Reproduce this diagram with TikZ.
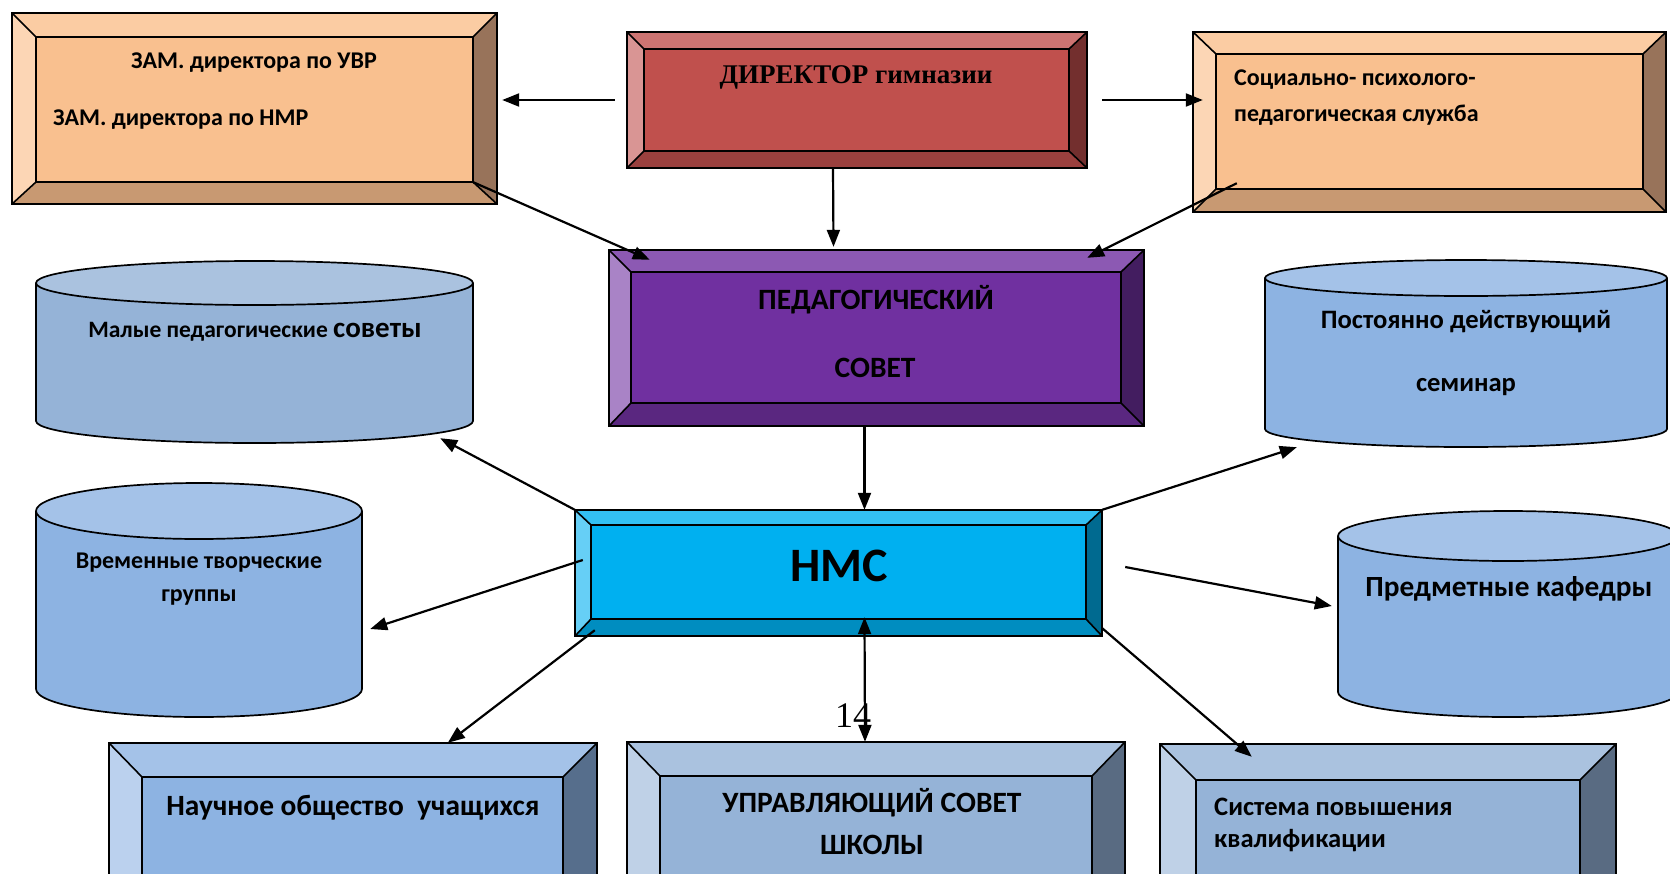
\documentclass[tikz,border=0pt]{standalone}
\usepackage{fontspec}
\setmainfont{Carlito}
\newfontfamily\serifbf{Liberation Serif}
\usetikzlibrary{calc,fit,arrows.meta}
% colours
\definecolor{zamF}{HTML}{F9C08F}\definecolor{zamT}{HTML}{FBCCA3}\definecolor{zamL}{HTML}{FCD6B5}\definecolor{zamB}{HTML}{C89972}\definecolor{zamR}{HTML}{98735A}
\definecolor{sppsF}{HTML}{F9C08F}\definecolor{sppsT}{HTML}{FBCCA3}\definecolor{sppsL}{HTML}{FCD6B5}\definecolor{sppsB}{HTML}{C89972}\definecolor{sppsR}{HTML}{98735A}
\definecolor{dirF}{HTML}{C0504D}\definecolor{dirT}{HTML}{CD7472}\definecolor{dirL}{HTML}{D99594}\definecolor{dirB}{HTML}{9A403E}\definecolor{dirR}{HTML}{732F2E}
\definecolor{pedF}{HTML}{7030A0}\definecolor{pedT}{HTML}{8C59B3}\definecolor{pedL}{HTML}{A983C6}\definecolor{pedB}{HTML}{5A2780}\definecolor{pedR}{HTML}{431D60}
\definecolor{nmcF}{HTML}{00B0F0}\definecolor{nmcT}{HTML}{33C0F3}\definecolor{nmcL}{HTML}{66CFF6}\definecolor{nmcB}{HTML}{008DC0}\definecolor{nmcR}{HTML}{006A90}
\definecolor{nouF}{HTML}{8DB3E2}\definecolor{nouT}{HTML}{A4C2E8}\definecolor{nouL}{HTML}{BBD1EE}\definecolor{nouB}{HTML}{718FB5}\definecolor{nouR}{HTML}{566E8C}
\definecolor{uprF}{HTML}{95B3D7}\definecolor{uprT}{HTML}{AAC2DF}\definecolor{uprL}{HTML}{BFD1E7}\definecolor{uprB}{HTML}{7790AC}\definecolor{uprR}{HTML}{596B82}
\definecolor{sysF}{HTML}{95B3D7}\definecolor{sysT}{HTML}{AAC2DF}\definecolor{sysL}{HTML}{BFD1E7}\definecolor{sysB}{HTML}{7790AC}\definecolor{sysR}{HTML}{596B82}
\definecolor{cyaB}{HTML}{95B3D7}\definecolor{cyaT}{HTML}{AAC2DF}
\definecolor{cybB}{HTML}{8DB3E2}\definecolor{cybT}{HTML}{A4C2E8}
% bevelled box: name, x1,y1,x2,y2 (outer), ix1,iy1,ix2,iy2 (inner)
\newcommand\bevbox[9]{%
  \fill[#1L] (#2,#3) -- (#6,#7) -- (#6,#9) -- (#2,#5) -- cycle;
  \fill[#1T] (#2,#3) -- (#4,#3) -- (#8,#7) -- (#6,#7) -- cycle;
  \fill[#1R] (#4,#3) -- (#4,#5) -- (#8,#9) -- (#8,#7) -- cycle;
  \fill[#1B] (#2,#5) -- (#4,#5) -- (#8,#9) -- (#6,#9) -- cycle;
  \fill[#1F] (#6,#7) rectangle (#8,#9);
  \draw[edgeline] (#2,#3) rectangle (#4,#5) (#6,#7) rectangle (#8,#9);
  \draw[diagline] (#2,#3) -- (#6,#7) (#4,#3) -- (#8,#7) (#4,#5) -- (#8,#9) (#2,#5) -- (#6,#9);
  \node[fit={(#2,#3) (#4,#5)}, inner sep=0pt] (#1) {};}
% cylinder: name, colour prefix, x1, x2, y of top centre, y of bottom centre, ry
\newcommand\cylnd[7]{%
  \pgfmathsetmacro\crx{(#4-#3)/2}\pgfmathsetmacro\ccx{(#4+#3)/2}%
  \fill[#2B] (#3,#5) -- (#3,#6) arc[start angle=180,end angle=360,x radius=\crx pt,y radius=#7pt] -- (#4,#5) -- cycle;
  \fill[#2T] (\ccx,#5) ellipse[x radius=\crx pt,y radius=#7pt];
  \draw[cylline] (#3,#5) -- (#3,#6) arc[start angle=180,end angle=360,x radius=\crx pt,y radius=#7pt] -- (#4,#5);
  \draw[cylline] (\ccx,#5) ellipse[x radius=\crx pt,y radius=#7pt];
  \node[fit={(#3,{#5-#7}) (#4,{#6+#7})}, inner sep=0pt] (#1) {};}
\begin{document}
\begin{tikzpicture}[x=1pt,y=-1pt,
  edgeline/.style={line width=2pt,line join=miter},
  diagline/.style={line width=1.6pt},
  cylline/.style={line width=1.7pt},
  arr/.style={line width=2.2pt,-{Triangle[length=17pt,width=13pt]}},
  darr/.style={line width=2.2pt,{Triangle[length=17pt,width=13pt]}-{Triangle[length=17pt,width=13pt]}},
  lbl/.style={inner sep=0pt,text=black,font=\bfseries}]
\useasboundingbox (0,0) rectangle (1670,873);
\clip (0,0) rectangle (1670,873);
\fill[white] (0,0) rectangle (1670,873);

% boxes
\bevbox{zam}{12}{13}{497}{204}{36}{37}{473}{182}
\bevbox{dir}{627}{32}{1087}{168}{644}{49}{1069}{151}
\bevbox{spps}{1193}{32}{1666}{212}{1216}{54}{1643}{189}
\bevbox{ped}{609}{250}{1144}{426}{631}{272}{1121}{403}
\bevbox{nmc}{575}{510}{1102}{636}{591}{525}{1086}{619}
\bevbox{nou}{109}{743}{597}{1000}{142}{777}{563}{967}
\bevbox{upr}{627}{742}{1125}{1000}{660}{776}{1092}{967}
\bevbox{sys}{1160}{744}{1616}{1000}{1196}{780}{1580}{967}

% cylinders
\cylnd{cmal}{cya}{36}{473}{283}{421}{22}
\cylnd{cvre}{cyb}{36}{362}{511}{689}{28}
\cylnd{cpos}{cyb}{1265}{1667}{278}{429}{18}
\cylnd{cpre}{cyb}{1338}{1678}{536}{692}{25}

% texts
\node[lbl,font=\bfseries\fontsize{24}{28}\selectfont] (tzam1) at (254,63) {ЗАМ. директора по УВР};
\node[lbl,anchor=west,font=\bfseries\fontsize{24}{28}\selectfont] (tzam2) at (53,120) {ЗАМ. директора по НМР};
\node[lbl,font=\serifbf\bfseries\fontsize{27}{32}\selectfont] (tdir) at (856,77) {ДИРЕКТОР гимназии};
\node[lbl,anchor=west,font=\bfseries\fontsize{24}{28}\selectfont] (tsp1) at (1234,80) {Социально- психолого-};
\node[lbl,anchor=west,font=\bfseries\fontsize{24}{28}\selectfont] (tsp2) at (1234,115) {педагогическая служба};
\node[lbl,font=\bfseries\fontsize{29.5}{34}\selectfont] (tped1) at (876,300) {ПЕДАГОГИЧЕСКИЙ};
\node[lbl,font=\bfseries\fontsize{29.5}{34}\selectfont] (tped2) at (875,368) {СОВЕТ};
\node[lbl,font=\bfseries\fontsize{48}{52}\selectfont] (tnmc) at (839,566) {НМС};
\node[lbl,font=\bfseries\fontsize{23.5}{28}\selectfont] (tmal) at (255,332) {Малые педагогические {\fontsize{29}{32}\selectfont советы}};
\node[lbl,font=\bfseries\fontsize{24}{28}\selectfont] (tvre1) at (199,563) {Временные творческие};
\node[lbl,font=\bfseries\fontsize{24}{28}\selectfont] (tvre2) at (199,597) {группы};
\node[lbl,font=\bfseries\fontsize{26.6}{30}\selectfont] (tpos1) at (1466,322) {Постоянно действующий};
\node[lbl,font=\bfseries\fontsize{26.6}{30}\selectfont] (tpos2) at (1466,387) {семинар};
\node[lbl,font=\bfseries\fontsize{29.3}{33}\selectfont] (tpre) at (1509,589) {Предметные кафедры};
\node[lbl,font=\bfseries\fontsize{29.4}{33}\selectfont] (tnou) at (353,808) {Научное общество~ учащихся};
\node[lbl,font=\bfseries\fontsize{29.5}{33}\selectfont] (tupr1) at (872,803) {УПРАВЛЯЮЩИЙ СОВЕТ};
\node[lbl,font=\bfseries\fontsize{29.5}{33}\selectfont] (tupr2) at (872,845) {ШКОЛЫ};
\node[lbl,anchor=west,font=\bfseries\fontsize{26.6}{30}\selectfont] (tsys1) at (1214,807) {Система повышения};
\node[lbl,anchor=west,font=\bfseries\fontsize{26.6}{30}\selectfont] (tsys2) at (1214,841) {квалификации};
\node[inner sep=0pt,font=\serifbf\fontsize{36}{40}\selectfont] (tpage) at (853,716) {14};

% connectors
\draw[arr,shorten <=12pt,shorten >=5pt] (dir.west) -- (dir.west -| zam.east);
\draw[arr,shorten <=15pt] (dir.east) -- ($(dir.east -| spps.west)+(10,0)$);
\draw[arr] ($(dir.south)+(-24,0)$) -- ($(ped.north)+(-43,-3)$);
\draw[arr] ($(zam.south east)+(-24,-22)$) -- ($(ped.north west)+(41,10)$);
\draw[arr] ($(spps.south west)+(44,-29)$) -- ($(ped.north east)+(-57,8)$);
\draw[arr] ($(ped.south)+(-12,0)$) -- ($(nmc.north)+(26,0)$);
\draw[darr] ($(nmc.south)+(26,-19)$) -- ($(upr.north)+(-11,0)$);
\draw[arr] (nmc.north west) -- ($(cmal.south east)+(-33,-5)$);
\draw[arr] ($(nmc.west)+(8,-13)$) -- ($(cvre.east)+(8,29)$);
\draw[arr] ($(nmc.south west)+(20,-6)$) -- ($(nou.north west)+(339,0)$);
\draw[arr] (nmc.north east) -- ($(cpos.south west)+(32,0)$);
\draw[arr] ($(nmc.east)+(23,-6)$) -- ($(cpre.west)+(-6,-8)$);
\draw[arr] ($(nmc.south east)+(0,-8)$) -- ($(sys.north west)+(92,13)$);
\end{tikzpicture}
\end{document}
